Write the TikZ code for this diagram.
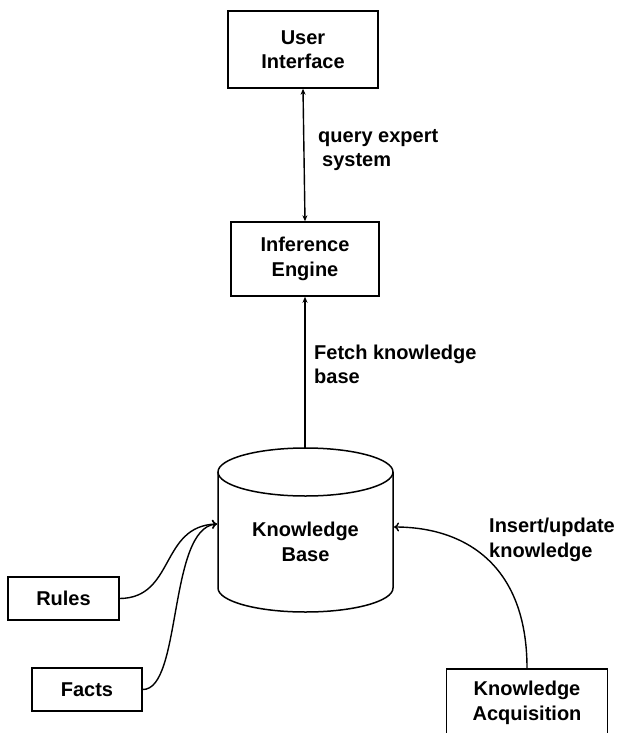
\documentclass[tikz,border=0pt]{standalone}
\usepackage{fontspec}
\setmainfont{Liberation Sans}
\usetikzlibrary{arrows.meta}
\begin{document}
\begin{tikzpicture}[x=1pt,y=-1pt,
  box/.style={draw,line width=1.5pt,align=center,inner sep=0pt},
  lbl/.style={align=left,inner sep=0pt,anchor=west},
  conn/.style={line width=1.4pt},
  every node/.style={font=\bfseries\fontsize{20}{24.5}\selectfont}]
\clip (0,0) rectangle (620,733);
\fill[white] (0,0) rectangle (620,733);
\node[box,minimum width=150pt,minimum height=77pt] (ui) at (303,49.5) {User\\Interface};
\node[box,minimum width=148pt,minimum height=74pt] (ie) at (305,259) {Inference\\Engine};
\node[box,minimum width=111pt,minimum height=43pt] (rules) at (63.5,598.5) {Rules};
\node[box,minimum width=110pt,minimum height=43pt] (facts) at (87,689.5) {Facts};
\node[box,minimum width=161pt,minimum height=100pt,anchor=north] (ka) at (527,668) {};
\node[align=center,inner sep=0pt] (katext) at (527,703) {Knowledge\\Acquisition};
% cylinder
\draw[line width=1.5pt] (305.5,472) ellipse [x radius=87.5, y radius=24];
\draw[line width=1.5pt] (218,472) -- (218,588) arc[start angle=180,end angle=360,x radius=87.5,y radius=-24] -- (393,472);
\node[align=center,inner sep=0pt,minimum width=175pt,minimum height=140pt] (kb) at (305.5,542) {Knowledge\\Base};
\coordinate (kbtop) at (305,449);
\coordinate (kbleft) at (217,524);
\coordinate (kbright) at (394,527);
% connectors
\draw[conn,{Stealth[length=6pt,width=5pt]}-{Stealth[length=6pt,width=5pt]}] (ui.south) -- (ie.north);
\draw[conn,-{Stealth[length=6pt,width=5pt]}] (kbtop) -- (ie.south);
\draw[conn,-{To[length=5pt,width=9pt]}] (rules.east) .. controls (175,598) and (160,526) .. (kbleft);
\draw[conn,-{To[length=5pt,width=9pt]}] (facts.east) .. controls (182,690) and (168,528) .. (kbleft);
\draw[conn,-{To[length=5pt,width=9pt]}] (ka.north) .. controls (527,565) and (465,527) .. (kbright);
% labels
\node[lbl] (l1) at (318,150) {query expert\\\hspace{4pt}system};
\node[lbl] (l2) at (314,364.5) {Fetch knowledge\\base};
\node[lbl] (l3) at (489,540) {Insert/update\\knowledge};
\end{tikzpicture}
\end{document}
